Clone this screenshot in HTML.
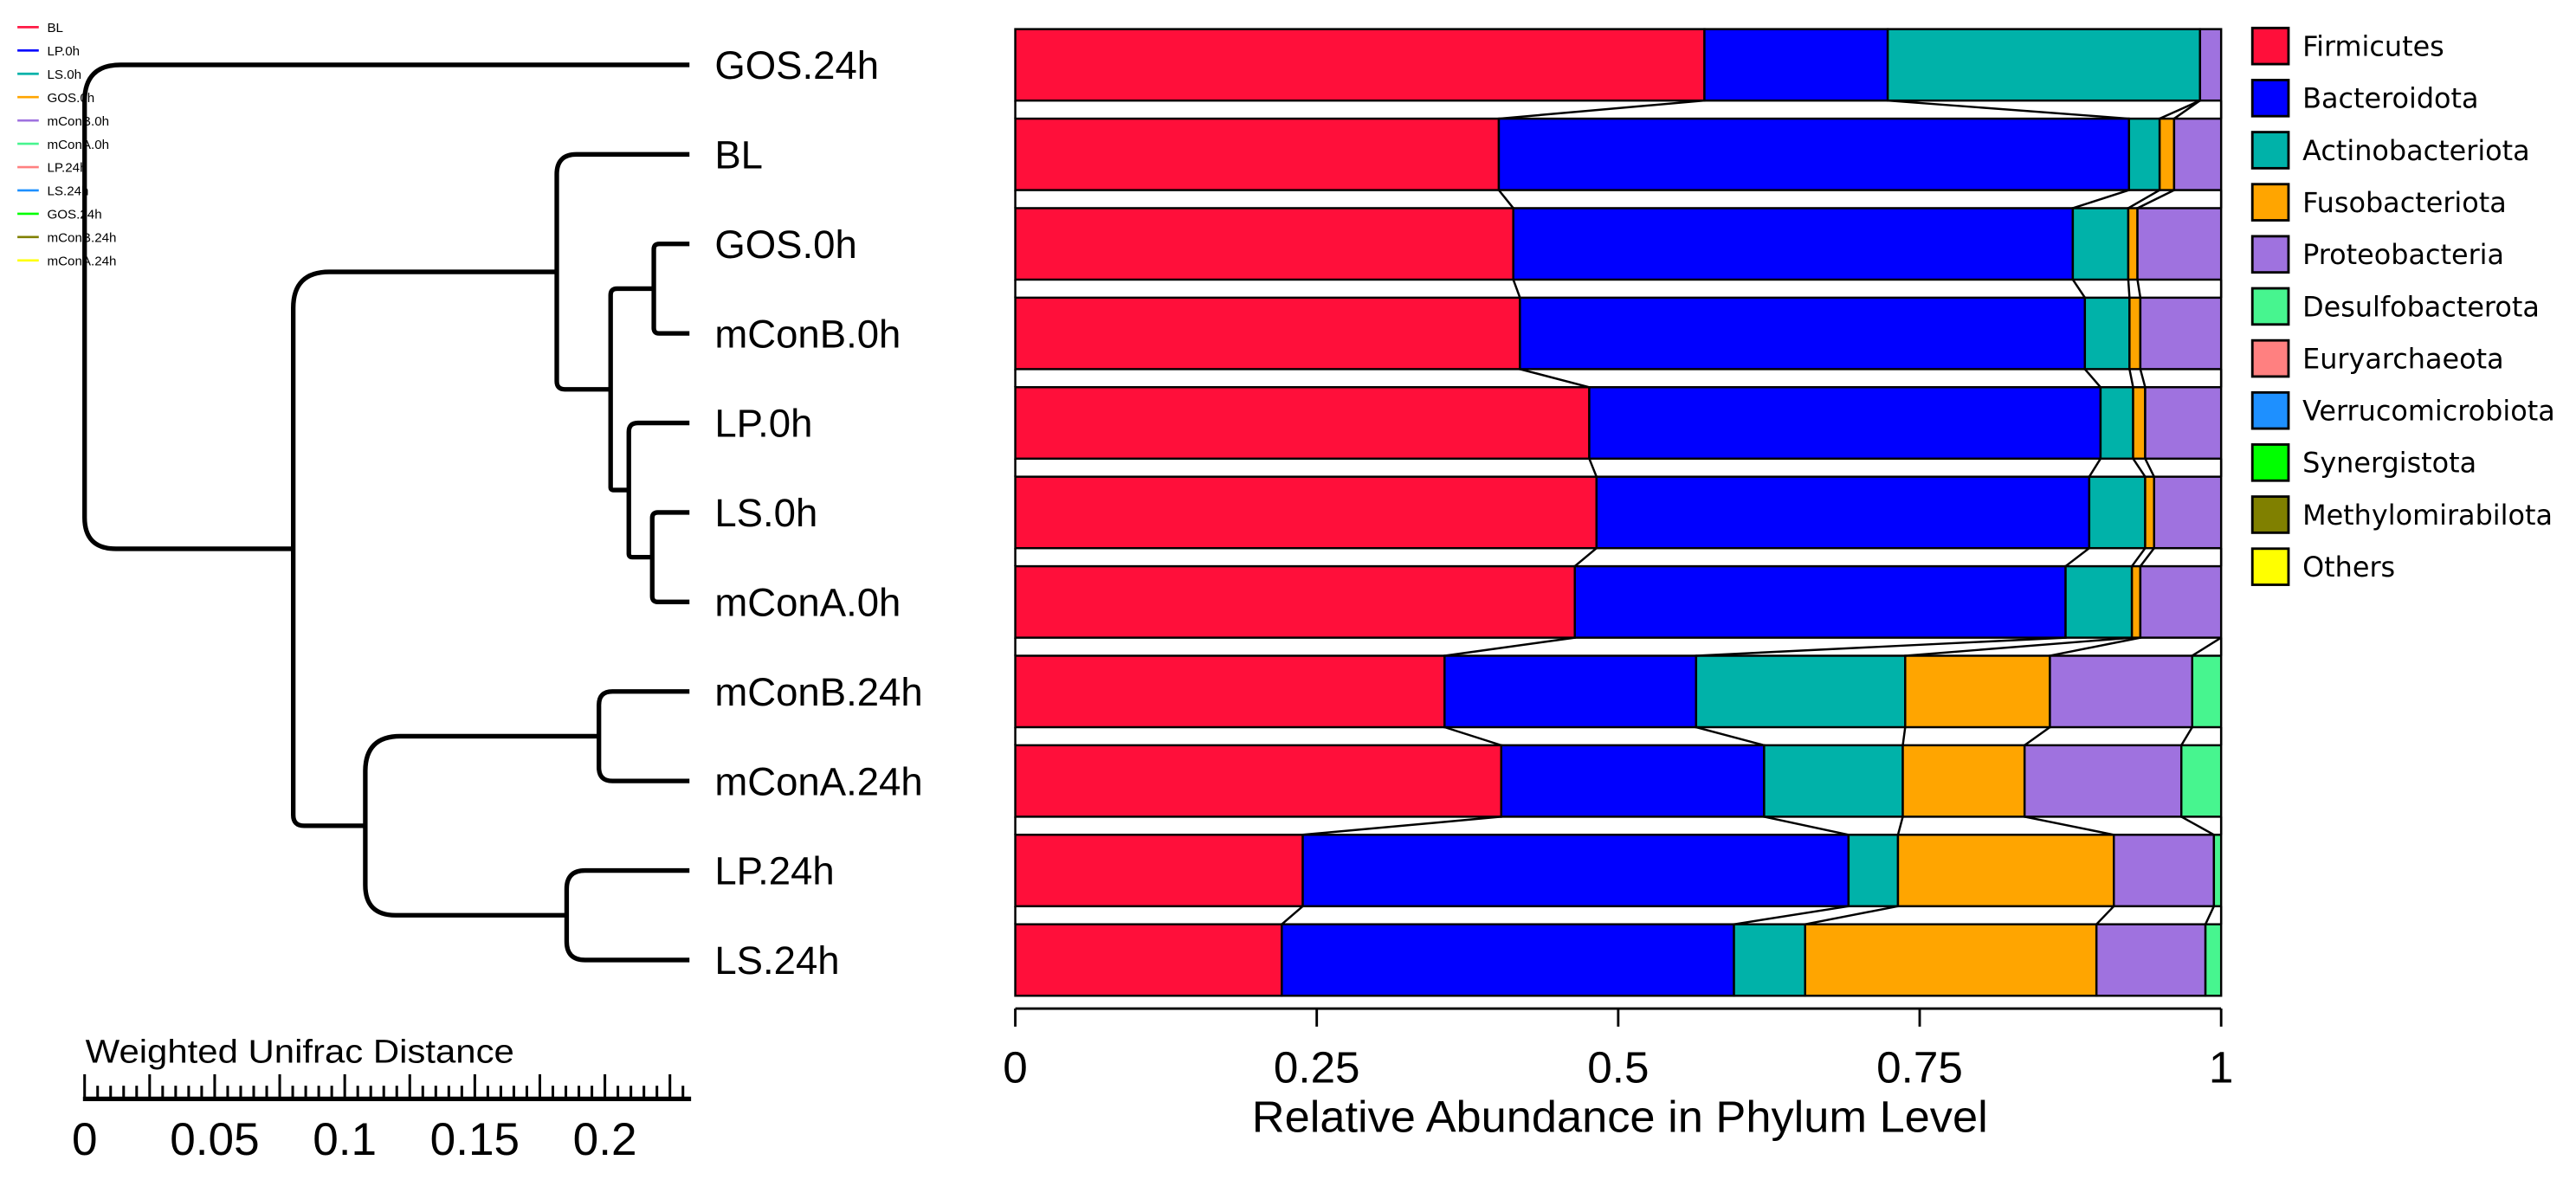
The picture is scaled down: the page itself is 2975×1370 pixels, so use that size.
<!DOCTYPE html>
<html><head><meta charset="utf-8"><style>
html,body{margin:0;padding:0;background:#fff}
svg{display:block}
text{font-family:"Liberation Sans",Arial,sans-serif;fill:#000}
</style></head><body>
<svg id="chart" width="2975" height="1370" viewBox="0 0 1568 722" xmlns="http://www.w3.org/2000/svg"></svg>
<script>
// ---- data ----
const samples = ["GOS.24h","BL","GOS.0h","mConB.0h","LP.0h","LS.0h","mConA.0h","mConB.24h","mConA.24h","LP.24h","LS.24h"];
const phyla = ["Firmicutes","Bacteroidota","Actinobacteriota","Fusobacteriota","Proteobacteria","Desulfobacterota","Euryarchaeota","Verrucomicrobiota","Synergistota","Methylomirabilota","Others"];
const phylaColors = ["#ff0f3a","#0000ff","#00b2a9","#ffa500","#9f72df","#47f58f","#ff8080","#1e90ff","#00ff00","#808000","#ffff00"];
const firmicutes      = [0.5715,0.401,0.413,0.4185,0.476,0.482,0.464,0.356,0.403,0.2384,0.221];
const bacteroidota    = [0.152,0.5226,0.464,0.4685,0.424,0.4086,0.407,0.2086,0.218,0.4526,0.375];
const actinobacteriota= [0.259,0.0254,0.046,0.037,0.027,0.0464,0.055,0.1734,0.115,0.041,0.059];
const fusobacteriota  = [0.0,0.012,0.0076,0.009,0.010,0.0074,0.007,0.12,0.101,0.179,0.2416];
const proteobacteria  = [0.0175,0.039,0.0694,0.067,0.063,0.0556,0.067,0.118,0.130,0.083,0.0904];
const desulfobacterota= [0,0,0,0,0,0,0,0.024,0.033,0.006,0.013];
const xTicks = [0,0.25,0.5,0.75,1];
const xTickLabels = ["0","0.25","0.5","0.75","1"];
const scaleTicks = [0,0.05,0.1,0.15,0.2];
const scaleTickLabels = ["0","0.05","0.1","0.15","0.2"];
const groupLegend = ["BL","LP.0h","LS.0h","GOS.0h","mConB.0h","mConA.0h","LP.24h","LS.24h","GOS.24h","mConB.24h","mConA.24h"];
const groupColors = ["#ff1a45","#0000ff","#00b2a9","#ffa500","#9f72df","#47f58f","#ff8080","#1e90ff","#00ff00","#808000","#ffff00"];
const dendroNodes = [
 {id:"root", d:0.0, kids:["L0","n178"]},
 {id:"n178", d:0.0802, kids:["n339","n222"]},
 {id:"n339", d:0.1815, kids:["L1","n372"]},
 {id:"n372", d:0.2022, kids:["n398","n383"]},
 {id:"n398", d:0.2188, kids:["L2","L3"]},
 {id:"n383", d:0.2092, kids:["L4","n397"]},
 {id:"n397", d:0.2182, kids:["L5","L6"]},
 {id:"n222", d:0.1079, kids:["n365","n345"]},
 {id:"n365", d:0.1977, kids:["L7","L8"]},
 {id:"n345", d:0.1853, kids:["L9","L10"]}
];
const leafDist = 0.2325;

// ---- scales ----
const NS="http://www.w3.org/2000/svg";
const svg=document.getElementById('chart');
const X0=618, X1=1352;
const xs=v=>X0+(X1-X0)*v;
const barTop=i=>17.7+54.5*i, barH=43.5;
const rowC=i=>barTop(i)+barH/2;
const dx=d=>51.5+d*1583.5;
function mk(tag,attrs,parent){const e=document.createElementNS(NS,tag);for(const k in attrs)e.setAttribute(k,attrs[k]);(parent||svg).appendChild(e);return e;}

const series=[firmicutes,bacteroidota,actinobacteriota,fusobacteriota,proteobacteria,desulfobacterota];
const gBars=mk('g',{});


const cums=[];
samples.forEach((s,i)=>{
  let c=0; const cc=[0];
  series.forEach((arr,k)=>{
    const v=arr[i]; if(v<=0){cc.push(c);return;}
    const r=mk('rect',{x:xs(c),y:barTop(i),width:xs(c+v)-xs(c),height:barH,fill:phylaColors[k],stroke:'#000','stroke-width':1.3},gBars);
    
    
    c+=v; cc.push(c);
  });
  if(c<1){const r=mk('rect',{x:xs(c),y:barTop(i),width:xs(1)-xs(c),height:barH,fill:phylaColors[10],stroke:'#000','stroke-width':1.3},gBars);
    
    }
  cc.push(1);
  cums.push(cc);
});
for(let i=0;i<samples.length-1;i++){
  for(let k=0;k<cums[i].length;k++){
    const l=mk('line',{x1:xs(cums[i][k]),y1:barTop(i)+barH,x2:xs(cums[i+1][k]),y2:barTop(i+1),stroke:'#000','stroke-width':1.3},gBars);
    
    
  }
}
const ax=mk('g',{});


mk('line',{x1:xs(0),x2:xs(1),y1:614,y2:614,stroke:'#000','stroke-width':1.5},ax);
xTicks.forEach((t,j)=>{
  mk('line',{x1:xs(t),x2:xs(t),y1:614,y2:625,stroke:'#000','stroke-width':1.5},ax);
  const tx=mk('text',{x:xs(t),y:659,'text-anchor':'middle','font-size':27},ax);
  tx.textContent=xTickLabels[j];
  
  
});
const xt=mk('text',{x:986,y:689,'text-anchor':'middle','font-size':27,textLength:448,lengthAdjust:'spacingAndGlyphs'});
xt.textContent='Relative Abundance in Phylum Level';



samples.forEach((s,i)=>{
  const t=mk('text',{x:435,y:rowC(i)+8.5,'font-size':24});
  t.textContent=s;
  
  
});

const gD=mk('g',{fill:'none',stroke:'#000','stroke-width':2.8});


const nodeMap={}; dendroNodes.forEach(n=>nodeMap[n.id]=n);
function nodeY(id){ if(id[0]==='L') return rowC(+id.slice(1)); const n=nodeMap[id]; return (nodeY(n.kids[0])+nodeY(n.kids[1]))/2; }
function nodeX(id){ return id[0]==='L'? dx(leafDist) : dx(nodeMap[id].d); }
dendroNodes.forEach(n=>{
  const x=dx(n.d), y1=nodeY(n.kids[0]), y2=nodeY(n.kids[1]);
  const c1=nodeX(n.kids[0]), c2=nodeX(n.kids[1]);
  const span=(y2-y1)/2;
  const r1=Math.min(22,(c1-x)*0.15,span), r2=Math.min(22,(c2-x)*0.15,span);
  const p=mk('path',{d:`M${c1},${y1} H${x+r1} Q${x},${y1} ${x},${y1+r1} V${y2-r2} Q${x},${y2} ${x+r2},${y2} H${c2}`},gD);
  
  
});

const sb=mk('g',{});


const st=mk('text',{x:52,y:647,'font-size':20,textLength:261,lengthAdjust:'spacingAndGlyphs'},sb);
st.textContent='Weighted Unifrac Distance';
mk('line',{x1:dx(0)-1,x2:dx(0.2325)+1,y1:669,y2:669,stroke:'#000','stroke-width':2.8},sb);
for(let k=0;k<=46;k++){
  const v=k*0.005, major=(k%5===0);
  mk('line',{x1:dx(v),x2:dx(v),y1:major?654:661,y2:669,stroke:'#000','stroke-width':1.6},sb);
}
scaleTicks.forEach((t,j)=>{
  const tx=mk('text',{x:dx(t),y:703,'text-anchor':'middle','font-size':28},sb);
  tx.textContent=scaleTickLabels[j];
});

const lg=mk('g',{});


phyla.forEach((p,i)=>{
  const y=17+31.7*i;
  const r=mk('rect',{x:1371,y:y,width:22,height:22,fill:phylaColors[i],stroke:'#000','stroke-width':1.5},lg);
  
  
  const t=mk('text',{x:1401.5,y:y+17,'font-size':16.8,style:'font-family:"DejaVu Sans",sans-serif'},lg);
  t.textContent=p;
  
  
});

const gl=mk('g',{});


groupLegend.forEach((g,i)=>{
  const y=16.5+14.2*i;
  mk('line',{x1:10.6,x2:23.6,y1:y,y2:y,stroke:groupColors[i],'stroke-width':1.4},gl);
  const t=mk('text',{x:28.7,y:y+3,'font-size':8},gl);
  t.textContent=g;
  
  
});
</script>
</body></html>
